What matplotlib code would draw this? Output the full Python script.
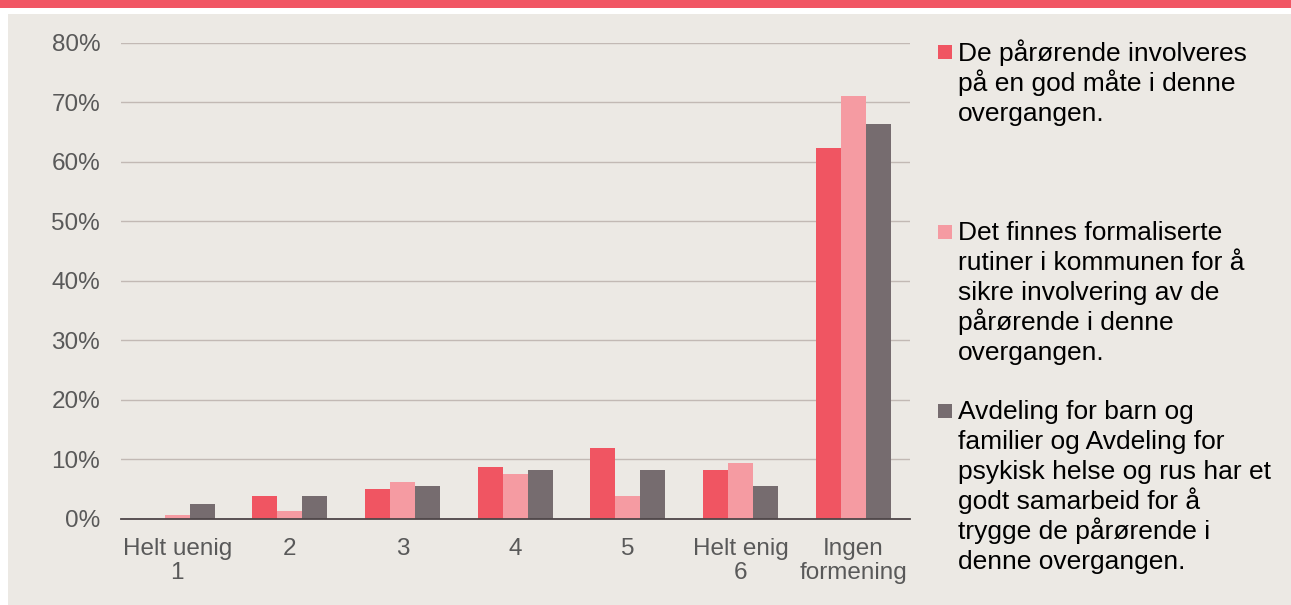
import matplotlib
matplotlib.use("Agg")
import matplotlib.pyplot as plt
import matplotlib.patches as mpatches
import numpy as np

categories = ["Helt uenig\n1", "2", "3", "4", "5", "Helt enig\n6", "Ingen\nformening"]
# andel svar i prosent
involveres = [0.0, 3.75, 5.0, 8.7, 11.8, 8.1, 62.4]
rutiner = [0.6, 1.2, 6.2, 7.45, 3.75, 9.3, 71.1]
samarbeid = [2.5, 3.75, 5.55, 8.1, 8.1, 5.55, 66.3]
yticks = [0, 10, 20, 30, 40, 50, 60, 70, 80]

series_labels = [
    "De pårørende involveres\npå en god måte i denne\novergangen.",
    "Det finnes formaliserte\nrutiner i kommunen for å\nsikre involvering av de\npårørende i denne\novergangen.",
    "Avdeling for barn og\nfamilier og Avdeling for\npsykisk helse og rus har et\ngodt samarbeid for å\ntrygge de pårørende i\ndenne overgangen.",
]

colors = ["#F05562", "#F59BA2", "#766C6F"]
bg = "#ECE9E4"
W, H = 1291, 605

plt.rcParams['font.family'] = ['Liberation Sans', 'DejaVu Sans']

fig = plt.figure(figsize=(W / 100, H / 100), dpi=100, facecolor="white")

# bakgrunn og rød stripe øverst
fig.patches.append(mpatches.Rectangle((0, 1 - 8 / H), 1, 8 / H, transform=fig.transFigure,
                                      facecolor="#F15664", edgecolor="none", zorder=0))
fig.patches.append(mpatches.Rectangle((8 / W, 0), 1 - 8 / W, 1 - 14 / H, transform=fig.transFigure,
                                      facecolor=bg, edgecolor="none", zorder=0))

left, right, top, bottom = 121, 909.5, 43, 518.5
ax = fig.add_axes([left / W, 1 - bottom / H, (right - left) / W, (bottom - top) / H])
ax.set_facecolor("none")
ax.set_zorder(5)

x = np.arange(len(categories))
w = 0.222
for i, (vals, c) in enumerate(zip([involveres, rutiner, samarbeid], colors)):
    ax.bar(x + (i - 1) * w, vals, width=w, color=c, edgecolor="none", zorder=3)

ax.set_xlim(-0.5, len(categories) - 0.5)
ax.set_ylim(0, 80)
ax.set_yticks(yticks)
ax.set_yticklabels([f"{t}%" for t in yticks])
ax.set_xticks(x)
ax.set_xticklabels(categories, linespacing=1.12)
ax.tick_params(axis="both", length=0, labelsize=17.5, labelcolor="#595959")
ax.tick_params(axis="y", pad=15)
ax.tick_params(axis="x", pad=14)
ax.yaxis.grid(True, color="#C2B9B4", linewidth=1.0, zorder=0)
ax.set_axisbelow(True)
for s in ["top", "right", "left"]:
    ax.spines[s].set_visible(False)
ax.spines["bottom"].set_color("#4E4648")
ax.spines["bottom"].set_linewidth(1.3)
ax.spines["bottom"].set_zorder(4)

# legende, én linje om gangen så linjeavstanden blir jevn
baselines = [60.7, 240.3, 419.5]
step = 30
for lab, c, yb in zip(series_labels, colors, baselines):
    fig.patches.append(mpatches.Rectangle((938 / W, 1 - (yb - 1.5) / H), 14 / W, 14 / H,
                                          transform=fig.transFigure, facecolor=c,
                                          edgecolor="none", zorder=1))
    for k, line in enumerate(lab.split("\n")):
        fig.text(958 / W, 1 - (yb + k * step) / H, line, fontsize=19, color="black",
                 va="baseline", ha="left")

fig.savefig("out.png", dpi=100, facecolor="white")
